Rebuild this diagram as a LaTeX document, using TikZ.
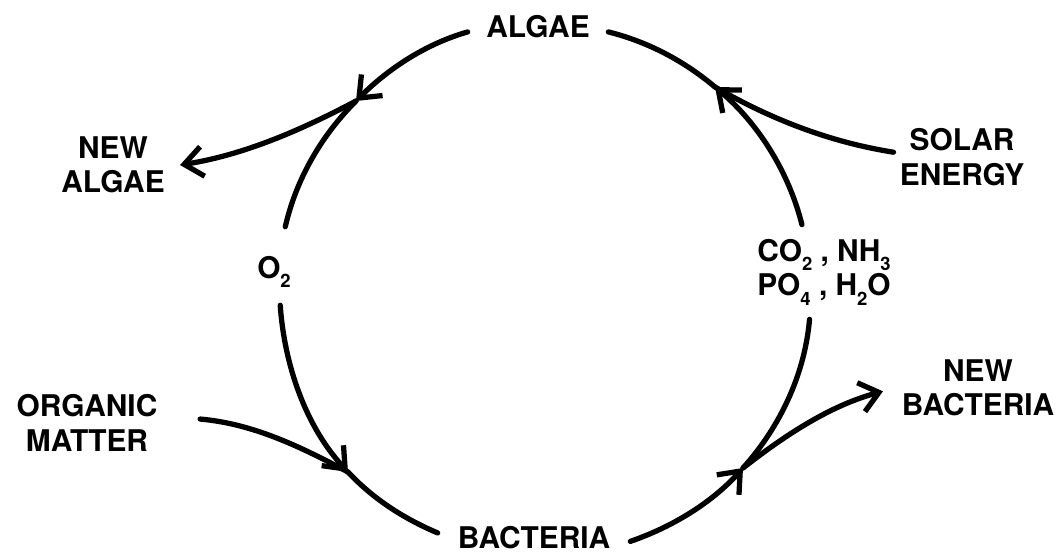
\documentclass[tikz,border=0pt]{standalone}
\usepackage{fontspec}
\setmainfont{TeX Gyre Heros}
\usepackage{tikz}
\usetikzlibrary{arrows.meta}
\newcommand{\chsub}[1]{\raisebox{-5.5pt}{\fontsize{10.5}{10.5}\selectfont #1}}

\begin{document}
\begin{tikzpicture}[x=0.02cm,y=0.02cm,>={Straight Barb[length=10.5pt,width=17pt]},
lbl/.style={font=\fontsize{17}{19.6}\selectfont\bfseries},
flow/.style={line width=3pt,line cap=round,looseness=0.87}]
\useasboundingbox (0,0) rectangle (1060,555);
\node[lbl,minimum width=2.8cm](algae) at (538,528) {ALGAE};
\node[lbl,minimum width=3.84cm](bacteria) at (534,17) {BACTERIA};
\node[lbl,inner ysep=0pt,text height=29pt,text depth=15.3pt](o2) at (274,289) {O\chsub{2}};
\node[lbl,align=center,minimum height=1.88cm,inner ysep=0pt](chem) at (824,283) {CO\chsub{2} , NH\chsub{3}\\PO\chsub{4} , H\chsub{2}O};
\node[lbl,align=center,inner xsep=0.3cm](newalgae) at (113,390) {NEW\\ALGAE};
\node[lbl,align=center,inner xsep=0.12cm](solar) at (962,398) {SOLAR\\ENERGY};
\node[lbl,align=center,inner xsep=0.85cm](organic) at (87,132) {ORGANIC\\MATTER};
\node[lbl,align=center,inner xsep=0.37cm](newbact) at (978,167) {NEW\\BACTERIA};
\coordinate (ta) at (356,454);
\coordinate (tb) at (715,468);
\coordinate (tc) at (348,83);
\coordinate (td) at (743,87);

\draw[flow,->](algae.184) to[out=196,in=45] (ta);
\draw[flow](ta) to[out=225,in=77] (o2.74);
\draw[flow,->](o2.-81) to[out=-86,in=133] (tc);
\draw[flow](tc) to[out=-47,in=157] (bacteria.177);
\draw[flow,->](bacteria.-2) to[out=19,in=228] (td);
\draw[flow](td) to[out=48,in=265] (chem.253);
\draw[flow,->](chem.115) to[out=104,in=-40] (tb);
\draw[flow](tb) to[out=140,in=-14] (algae.-4);

\draw[flow,->](ta) to[out=208,in=9] (newalgae.east);
\draw[flow](solar.176) to[out=171,in=-30] (tb);
\draw[flow](organic.2) to[out=-5,in=152] (tc);
\draw[flow,->](td) to[out=38,in=195] (newbact.182);
\end{tikzpicture}
\end{document}
